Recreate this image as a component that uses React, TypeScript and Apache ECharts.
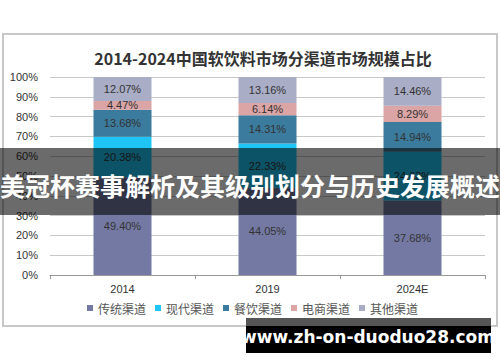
import React, { useEffect, useRef } from "react";
import * as echarts from "echarts";

const categories = ["2014", "2019", "2024E"];
const seriesNames = ["传统渠道", "现代渠道", "餐饮渠道", "电商渠道", "其他渠道"];
const traditional = [49.4, 44.05, 37.68];
const modern = [20.38, 22.33, 24.63];
const catering = [13.68, 14.31, 14.94];
const ecommerce = [4.47, 6.14, 8.29];
const others = [12.07, 13.16, 14.46];
const colors = ["#7479a3", "#1fc6f5", "#3b7b9e", "#dba5a5", "#a9adc6"];
const title = "2014-2024中国软饮料市场分渠道市场规模占比";
const banner = "美冠杯赛事解析及其级别划分与历史发展概述";
const watermark = "www.zh-on-duoduo28.com";

export default function App() {
  const ref = useRef<HTMLDivElement>(null);
  useEffect(() => {
    if (!ref.current) return;
    const chart = echarts.init(ref.current, undefined, { renderer: "svg" });
    const data = [traditional, modern, catering, ecommerce, others];
    const font = "Liberation Sans, Noto Sans CJK SC, sans-serif";
    chart.setOption({
      animation: false,
      backgroundColor: "#ffffff",
      textStyle: { fontFamily: font },
      title: {
        text: title,
        left: 258,
        textAlign: "center",
        top: 45,
        textStyle: { fontSize: 16, fontWeight: "bold", color: "#333", fontFamily: "Noto Sans CJK SC" },
      },
      grid: { left: 50, right: 15, top: 77, bottom: 87 },
      legend: {
        data: seriesNames,
        top: 297,
        left: 82,
        icon: "rect",
        itemWidth: 6,
        itemHeight: 6,
        itemGap: 9,
        textStyle: { fontSize: 12, color: "#555", fontFamily: "Noto Sans CJK SC" },
      },
      xAxis: {
        type: "category",
        data: categories,
        axisLine: { lineStyle: { color: "#999" } },
        axisTick: { show: true, length: 4, lineStyle: { color: "#999" } },
        axisLabel: { fontSize: 11, color: "#333", margin: 8 },
      },
      yAxis: {
        type: "value",
        min: 0,
        max: 100,
        interval: 10,
        axisLine: { show: false },
        axisTick: { show: false },
        axisLabel: { formatter: "{value}%", fontSize: 11, color: "#333", margin: 12 },
        splitLine: { lineStyle: { color: "#c8c8c8" } },
      },
      series: seriesNames.map((name, i) => ({
        name,
        type: "bar",
        stack: "total",
        barWidth: "40%",
        data: data[i],
        itemStyle: { color: colors[i] },
        label: {
          show: true,
          position: "inside",
          fontSize: 11,
          color: "#333",
          formatter: (p: any) => p.value.toFixed(2) + "%",
        },
      })),
      graphic: [
        {
          type: "rect",
          shape: { x: 3, y: 34, width: 494, height: 292 },
          style: { fill: "none", stroke: "#c8c8c8", lineWidth: 2 },
          z: 1,
        },
        {
          type: "rect",
          shape: { x: 0, y: 148, width: 500, height: 67 },
          style: { fill: "rgba(0,0,0,0.58)" },
          z: 100,
        },
        {
          type: "text",
          x: 250,
          y: 185,
          style: {
            text: banner,
            fill: "#ffffff",
            fontSize: 25,
            fontWeight: "bold",
            fontFamily: "Noto Sans CJK SC",
            align: "center",
            verticalAlign: "middle",
          },
          z: 101,
        },
        {
          type: "rect",
          shape: { x: 246, y: 318, width: 245, height: 8 },
          style: { fill: "#555" },
          z: 100,
        },
        {
          type: "rect",
          shape: { x: 246, y: 326, width: 245, height: 27 },
          style: { fill: "#000" },
          z: 100,
        },
        {
          type: "text",
          x: 368,
          y: 337,
          style: {
            text: watermark,
            fill: "#ffffff",
            fontSize: 17,
            fontWeight: "bold",
            fontFamily: "DejaVu Sans, sans-serif",
            align: "center",
            verticalAlign: "middle",
          },
          z: 101,
        },
      ],
    });
    return () => chart.dispose();
  }, []);
  return <div ref={ref} style={{ width: 500, height: 362, position: "absolute", left: 0, top: 0 }} />;
}
